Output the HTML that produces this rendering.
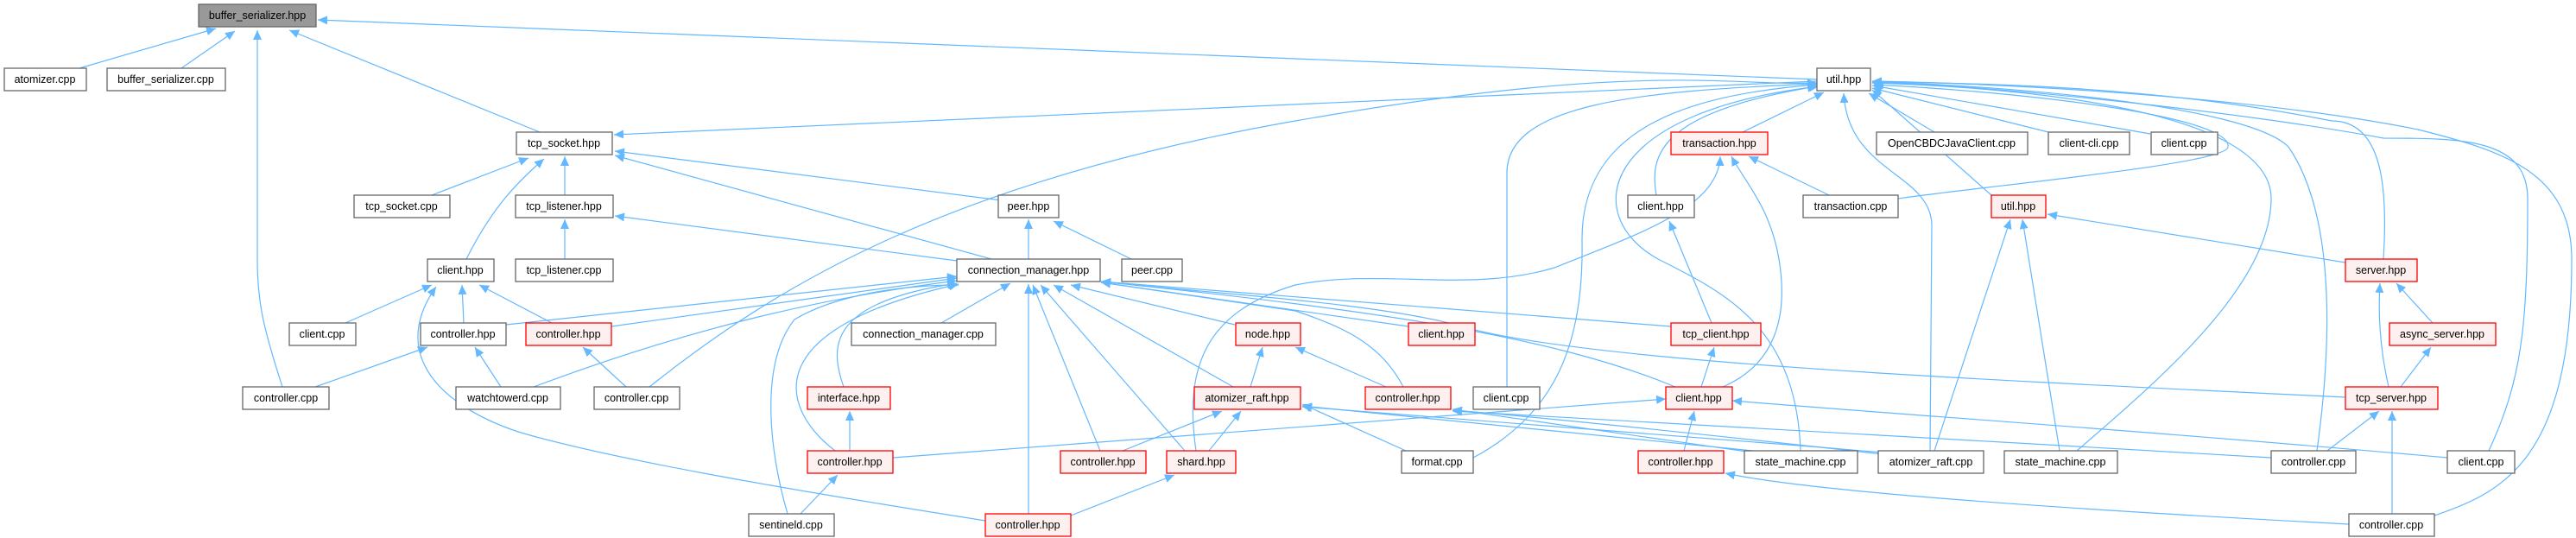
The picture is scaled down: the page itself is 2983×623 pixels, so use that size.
<!DOCTYPE html>
<html><head><meta charset="utf-8"><style>
html,body{margin:0;padding:0;background:#fff;}
svg{display:block;}
text{font-family:"Liberation Sans",sans-serif;font-size:12.5px;fill:#000;text-anchor:middle;}
.n{fill:#fff;stroke:#666;stroke-width:1.3;}
.r{fill:#fff0f0;stroke:#ff0000;stroke-width:1.3;}
.g{fill:#999;stroke:#666;stroke-width:1.3;}
.e{fill:none;stroke:#63b8ff;stroke-width:1.2;marker-end:url(#a);}
</style></head><body>
<svg width="2983" height="623" viewBox="0 0 2983 623" xmlns="http://www.w3.org/2000/svg">
<defs><marker id="a" markerUnits="userSpaceOnUse" markerWidth="12" markerHeight="10" refX="11" refY="5" orient="auto"><path d="M0,0 L11,5 L0,10 z" fill="#63b8ff"/></marker></defs>
<g>
<path class="e" d="M92 79 L250 33"/>
<path class="e" d="M210 79 L272 36"/>
<path class="e" d="M327 448 C305 380 298 350 298 300 L298 35"/>
<path class="e" d="M625 153 L335 35"/>
<path class="e" d="M2104 92 L368 23"/>
<path class="e" d="M2104 94 L711 156"/>
<path class="e" d="M752 448 C900 330 1100 210 1500 140 S2000 100 2104 96"/>
<path class="e" d="M2018 153 L2112 107"/>
<path class="e" d="M2240 153 L2164 108"/>
<path class="e" d="M2372 153 L2168 102"/>
<path class="e" d="M2490 155 L2168 99"/>
<path class="e" d="M2306 226 L2168 104"/>
<path class="e" d="M2198 230 C2300 215 2580 190 2580 170 C2585 140 2400 110 2170 98"/>
<path class="e" d="M1918 226 C1910 180 1920 130 2104 100"/>
<path class="e" d="M1745 448 L1745 200 C1745 120 1900 105 2104 97"/>
<path class="e" d="M1706 530 C1800 480 1834 400 1832 280 C1830 150 1950 110 2104 98"/>
<path class="e" d="M2085 522 C2080 380 2000 340 1920 300 C1830 250 1850 130 2106 100"/>
<path class="e" d="M2235 522 L2237 260 C2235 200 2140 200 2135 108"/>
<path class="e" d="M2405 522 C2500 440 2630 330 2630 230 C2630 120 2300 100 2168 96"/>
<path class="e" d="M2683 522 C2700 400 2705 250 2650 170 C2600 120 2300 98 2168 95"/>
<path class="e" d="M2882 522 C2920 440 2927 380 2927 230 C2927 160 2850 160 2760 160 C2600 130 2300 98 2168 95"/>
<path class="e" d="M2819 597 C2900 570 2978 530 2978 300 C2978 200 2900 175 2800 150 C2600 110 2300 96 2168 94"/>
<path class="e" d="M2760 300 C2765 220 2760 140 2700 140 C2500 100 2300 96 2168 95"/>
<path class="e" d="M1160 232 L712 175"/>
<path class="e" d="M1148 300 L712 180"/>
<path class="e" d="M1108 302 L712 250"/>
<path class="e" d="M500 226 L612 183"/>
<path class="e" d="M654 226 L654 181"/>
<path class="e" d="M540 300 C570 240 600 210 630 184"/>
<path class="e" d="M654 300 L654 254"/>
<path class="e" d="M1310 300 L1220 256"/>
<path class="e" d="M1191 300 L1191 254"/>
<path class="e" d="M400 374 L500 330"/>
<path class="e" d="M537 374 L535 330"/>
<path class="e" d="M639 374 L555 330"/>
<path class="e" d="M1141 603 C900 565 700 530 600 500 C510 470 450 410 505 332"/>
<path class="e" d="M365 448 L495 402"/>
<path class="e" d="M580 448 L550 402"/>
<path class="e" d="M725 448 L675 402"/>
<path class="e" d="M586 376 L1108 320"/>
<path class="e" d="M708 378 L1108 322"/>
<path class="e" d="M618 448 C800 380 950 345 1108 325"/>
<path class="e" d="M1090 374 L1170 328"/>
<path class="e" d="M977 448 C960 400 960 350 1108 328"/>
<path class="e" d="M967 522 C900 470 880 380 1110 329"/>
<path class="e" d="M912 595 C890 520 880 420 920 370 C970 340 1050 330 1110 330"/>
<path class="e" d="M1191 595 L1191 329"/>
<path class="e" d="M1274 522 L1196 330"/>
<path class="e" d="M1372 522 L1205 330"/>
<path class="e" d="M1428 448 L1220 330"/>
<path class="e" d="M1430 376 L1240 330"/>
<path class="e" d="M1631 378 L1275 327"/>
<path class="e" d="M1625 448 C1600 400 1560 380 1500 360 L1275 327"/>
<path class="e" d="M1935 378 L1275 326"/>
<path class="e" d="M1940 448 C1800 390 1600 360 1275 326"/>
<path class="e" d="M2716 460 C2300 440 1850 420 1700 380 C1600 350 1400 340 1275 326"/>
<path class="e" d="M984 522 L984 476"/>
<path class="e" d="M927 595 L970 550"/>
<path class="e" d="M1448 448 L1462 402"/>
<path class="e" d="M1605 448 L1500 402"/>
<path class="e" d="M1300 522 L1415 476"/>
<path class="e" d="M1400 522 L1437 476"/>
<path class="e" d="M1628 522 L1508 468"/>
<path class="e" d="M2030 522 C1800 500 1600 480 1508 470"/>
<path class="e" d="M2180 524 C1900 500 1600 480 1508 471"/>
<path class="e" d="M1034 530 C1300 510 1700 480 1929 462"/>
<path class="e" d="M2030 524 L1682 474"/>
<path class="e" d="M2180 526 C1950 500 1750 480 1682 475"/>
<path class="e" d="M2630 530 C2300 510 1900 490 1682 476"/>
<path class="e" d="M2834 530 C2500 500 2200 480 2006 464"/>
<path class="e" d="M1970 448 L1985 402"/>
<path class="e" d="M1982 374 L1933 256"/>
<path class="e" d="M1995 448 C2060 420 2070 360 2060 300 C2050 240 2020 210 2005 181"/>
<path class="e" d="M2118 226 L2025 181"/>
<path class="e" d="M1385 522 C1370 420 1400 360 1500 330 C1600 310 1700 340 1800 310 C1900 270 1990 240 1992 181"/>
<path class="e" d="M1950 522 L1962 476"/>
<path class="e" d="M1240 597 L1360 550"/>
<path class="e" d="M2720 607 C2400 590 2100 570 1998 548"/>
<path class="e" d="M2240 522 L2328 254"/>
<path class="e" d="M2385 522 L2342 254"/>
<path class="e" d="M2716 304 L2371 248"/>
<path class="e" d="M2817 374 L2775 328"/>
<path class="e" d="M2766 448 C2755 400 2754 360 2756 328"/>
<path class="e" d="M2780 448 L2815 402"/>
<path class="e" d="M2695 522 L2755 476"/>
<path class="e" d="M2770 595 L2770 476"/>
</g>
<g>
<rect class="g" x="230" y="5" width="136" height="26"/><text x="298" y="22">buffer_serializer.hpp</text>
<rect class="n" x="5" y="79" width="95" height="26"/><text x="52" y="96">atomizer.cpp</text>
<rect class="n" x="124" y="79" width="137" height="26"/><text x="192" y="96">buffer_serializer.cpp</text>
<rect class="n" x="2104" y="79" width="62" height="26"/><text x="2135" y="96">util.hpp</text>
<rect class="n" x="598" y="153" width="111" height="26"/><text x="653" y="170">tcp_socket.hpp</text>
<rect class="r" x="1935" y="153" width="112" height="26"/><text x="1991" y="170">transaction.hpp</text>
<rect class="n" x="2173" y="153" width="175" height="26"/><text x="2260" y="170">OpenCBDCJavaClient.cpp</text>
<rect class="n" x="2372" y="153" width="94" height="26"/><text x="2419" y="170">client-cli.cpp</text>
<rect class="n" x="2491" y="153" width="77" height="26"/><text x="2529" y="170">client.cpp</text>
<rect class="n" x="410" y="226" width="111" height="26"/><text x="465" y="243">tcp_socket.cpp</text>
<rect class="n" x="597" y="226" width="113" height="26"/><text x="653" y="243">tcp_listener.hpp</text>
<rect class="n" x="1156" y="226" width="70" height="26"/><text x="1191" y="243">peer.hpp</text>
<rect class="n" x="1885" y="226" width="77" height="26"/><text x="1923" y="243">client.hpp</text>
<rect class="n" x="2088" y="226" width="110" height="26"/><text x="2143" y="243">transaction.cpp</text>
<rect class="r" x="2306" y="226" width="63" height="26"/><text x="2337" y="243">util.hpp</text>
<rect class="n" x="495" y="300" width="77" height="26"/><text x="533" y="317">client.hpp</text>
<rect class="n" x="597" y="300" width="113" height="26"/><text x="653" y="317">tcp_listener.cpp</text>
<rect class="n" x="1108" y="300" width="166" height="26"/><text x="1191" y="317">connection_manager.hpp</text>
<rect class="n" x="1299" y="300" width="70" height="26"/><text x="1334" y="317">peer.cpp</text>
<rect class="r" x="2716" y="300" width="83" height="26"/><text x="2757" y="317">server.hpp</text>
<rect class="n" x="335" y="374" width="77" height="26"/><text x="373" y="391">client.cpp</text>
<rect class="n" x="487" y="374" width="99" height="26"/><text x="536" y="391">controller.hpp</text>
<rect class="r" x="609" y="374" width="99" height="26"/><text x="658" y="391">controller.hpp</text>
<rect class="n" x="986" y="374" width="167" height="26"/><text x="1069" y="391">connection_manager.cpp</text>
<rect class="r" x="1431" y="374" width="75" height="26"/><text x="1468" y="391">node.hpp</text>
<rect class="r" x="1631" y="374" width="77" height="26"/><text x="1669" y="391">client.hpp</text>
<rect class="r" x="1935" y="374" width="104" height="26"/><text x="1987" y="391">tcp_client.hpp</text>
<rect class="r" x="2767" y="374" width="123" height="26"/><text x="2828" y="391">async_server.hpp</text>
<rect class="n" x="281" y="448" width="100" height="26"/><text x="331" y="465">controller.cpp</text>
<rect class="n" x="528" y="448" width="121" height="26"/><text x="588" y="465">watchtowerd.cpp</text>
<rect class="n" x="688" y="448" width="99" height="26"/><text x="737" y="465">controller.cpp</text>
<rect class="r" x="935" y="448" width="96" height="26"/><text x="983" y="465">interface.hpp</text>
<rect class="r" x="1383" y="448" width="123" height="26"/><text x="1444" y="465">atomizer_raft.hpp</text>
<rect class="r" x="1581" y="448" width="99" height="26"/><text x="1630" y="465">controller.hpp</text>
<rect class="n" x="1706" y="448" width="77" height="26"/><text x="1744" y="465">client.cpp</text>
<rect class="r" x="1929" y="448" width="77" height="26"/><text x="1967" y="465">client.hpp</text>
<rect class="r" x="2716" y="448" width="107" height="26"/><text x="2769" y="465">tcp_server.hpp</text>
<rect class="r" x="935" y="522" width="99" height="26"/><text x="984" y="539">controller.hpp</text>
<rect class="r" x="1228" y="522" width="99" height="26"/><text x="1277" y="539">controller.hpp</text>
<rect class="r" x="1351" y="522" width="80" height="26"/><text x="1391" y="539">shard.hpp</text>
<rect class="n" x="1623" y="522" width="83" height="26"/><text x="1664" y="539">format.cpp</text>
<rect class="r" x="1897" y="522" width="99" height="26"/><text x="1946" y="539">controller.hpp</text>
<rect class="n" x="2020" y="522" width="131" height="26"/><text x="2085" y="539">state_machine.cpp</text>
<rect class="n" x="2175" y="522" width="122" height="26"/><text x="2236" y="539">atomizer_raft.cpp</text>
<rect class="n" x="2321" y="522" width="131" height="26"/><text x="2386" y="539">state_machine.cpp</text>
<rect class="n" x="2630" y="522" width="98" height="26"/><text x="2679" y="539">controller.cpp</text>
<rect class="n" x="2834" y="522" width="78" height="26"/><text x="2873" y="539">client.cpp</text>
<rect class="n" x="867" y="595" width="99" height="26"/><text x="916" y="612">sentineld.cpp</text>
<rect class="r" x="1141" y="595" width="99" height="26"/><text x="1190" y="612">controller.hpp</text>
<rect class="n" x="2720" y="595" width="99" height="26"/><text x="2769" y="612">controller.cpp</text>
</g>
</svg>
</body></html>
